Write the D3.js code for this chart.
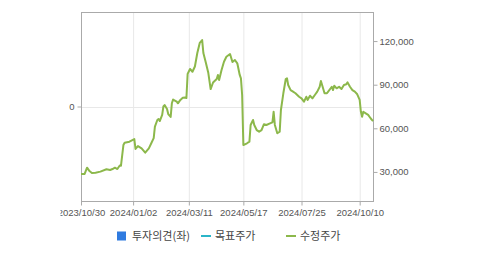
<!DOCTYPE html>
<html>
<head>
<meta charset="utf-8">
<script src="https://cdn.jsdelivr.net/npm/d3@7"></script>
<style>
  html, body { margin: 0; padding: 0; background: #fff; }
  svg { display: block; }
  .axis text { font-family: "Liberation Sans", Arial, sans-serif; font-size: 9.5px; fill: #555; }
  .axis line { stroke: #aaa; }
  .axis path { display: none; }
  .legend text { font-family: "Noto Sans CJK KR", sans-serif; font-size: 11px; fill: #444; }
</style>
</head>
<body>
<script>
/* ----------------------------- data ----------------------------- */
// trading day number (0 = 2023/10/30) and adjusted price (수정주가)
const tradeDay = [0, 3, 5, 7, 9, 12, 16, 21, 24, 26, 28, 30, 32, 33, 35, 36, 40, 44, 45, 47,
  50, 53, 56, 58, 60, 61, 63, 64, 65, 67, 68, 69, 71, 72, 74, 75, 76, 79, 80, 82,
  84, 86, 87, 88, 90, 92, 94, 96, 98, 100, 101, 103, 105, 107, 109, 112, 113, 114, 116, 118,
  120, 123, 125, 127, 129, 131, 132, 133, 134, 137, 139, 140, 142, 143, 145, 147, 149, 151, 153, 156,
  158, 159, 160, 162, 164, 165, 167, 169, 170, 171, 173, 175, 177, 180, 182, 184, 186, 187, 189, 191,
  193, 195, 197, 198, 199, 201, 203, 204, 207, 208, 209, 211, 213, 215, 217, 219, 220, 222, 224, 226,
  228, 230, 231, 232, 233, 235, 237, 239, 241];
const price = [28600, 28600, 32900, 30600, 29300, 29500, 30200, 31800, 31300, 32000, 32900, 32000, 34400, 34300, 48500, 50100, 50800, 52600, 45800, 47800,
  46200, 43200, 46200, 49700, 53300, 61100, 65700, 66400, 65000, 69200, 75000, 76000, 73300, 69800, 67800, 77200, 79800, 78300, 77200, 79500,
  81000, 81200, 80800, 97400, 100800, 98900, 102500, 111800, 118700, 120700, 111800, 105300, 98400, 87000, 91500, 93900, 96700, 93200, 100100, 105800,
  109200, 111100, 105600, 107000, 104700, 96700, 94400, 82900, 48500, 49700, 50800, 62300, 65700, 62300, 58800, 57700, 58800, 62800, 62300, 63400,
  64100, 71400, 62300, 56600, 57700, 72600, 84100, 93900, 94400, 89800, 86300, 85200, 84100, 81700, 80600, 78300, 81700, 79500, 82400, 80600,
  82900, 85200, 88600, 92500, 89800, 84100, 84100, 85200, 88600, 86300, 89300, 87500, 88600, 87000, 89800, 90300, 91600, 88600, 86300, 85200,
  83400, 79500, 71400, 68000, 71400, 70300, 69200, 66900, 65000];

const tickDays = [0, 43, 89, 134, 182, 230];
const tickLabels = ["2023/10/30", "2024/01/02", "2024/03/11", "2024/05/17", "2024/07/25", "2024/10/10"];
const rightTicks = [30000, 60000, 90000, 120000];
const leftTicks = [0];

const legendNames = ["투자의견(좌)", "목표주가", "수정주가"];
const legendColors = ["#2f7be0", "#2bb5c8", "#8cb84b"];

/* -------------------------- document size -------------------------- */
const width = 479, height = 255;
const plot = { left: 81, right: 373, top: 12, bottom: 201 };

const svg = d3.select("body").append("svg")
    .attr("width", width)
    .attr("height", height);

// labels are cut off at the left edge of the chart area
svg.append("clipPath").attr("id", "chartArea")
    .append("rect").attr("x", 60.5).attr("y", 0).attr("width", width - 60.5).attr("height", height);

/* ----------------------------- scales ----------------------------- */
const x = d3.scaleLinear().domain([0, 241]).range([plot.left, plot.right]);
const yRight = d3.scaleLinear().domain([10000, 140000]).range([plot.bottom, plot.top]);
const yLeft = d3.scaleLinear().domain([-1, 1]).range([plot.bottom, plot.top]);

/* ------------------------------ grid ------------------------------ */
svg.append("g").selectAll("line").data(tickDays.slice(1)).enter().append("line")
    .attr("x1", d => x(d) + 0.5).attr("x2", d => x(d) + 0.5)
    .attr("y1", plot.top).attr("y2", plot.bottom)
    .attr("stroke", "#e8e8e8");

svg.append("line")
    .attr("x1", plot.left).attr("x2", plot.right)
    .attr("y1", Math.round(yLeft(0)) + 0.5).attr("y2", Math.round(yLeft(0)) + 0.5)
    .attr("stroke", "#e8e8e8");

/* ------------------------------ axes ------------------------------ */
svg.append("g").attr("class", "axis")
    .attr("clip-path", "url(#chartArea)")
    .attr("transform", "translate(0," + (plot.bottom + 0.5) + ")")
    .call(d3.axisBottom(x).tickValues(tickDays).tickSize(4).tickPadding(4)
        .tickFormat((d, i) => tickLabels[i]));

svg.append("g").attr("class", "axis")
    .attr("transform", "translate(" + (plot.right + 0.5) + ",0)")
    .call(d3.axisRight(yRight).tickValues(rightTicks).tickSize(4).tickPadding(2)
        .tickFormat(d3.format(",")));

svg.append("g").attr("class", "axis")
    .attr("transform", "translate(" + (plot.left + 0.5) + ",0)")
    .call(d3.axisLeft(yLeft).tickValues(leftTicks).tickSize(4).tickPadding(3)
        .tickFormat(d3.format("d")));

/* ------------------------------ frame ------------------------------ */
svg.append("rect")
    .attr("x", plot.left + 0.5).attr("y", plot.top + 0.5)
    .attr("width", plot.right - plot.left).attr("height", plot.bottom - plot.top)
    .attr("fill", "none").attr("stroke", "#aaa");

/* ------------------------------ line ------------------------------ */
const line = d3.line()
    .x((d, i) => x(tradeDay[i]))
    .y(d => yRight(d));

svg.append("path").datum(price)
    .attr("d", line)
    .attr("fill", "none")
    .attr("stroke", legendColors[2])
    .attr("stroke-width", 2)
    .attr("stroke-linejoin", "round");

/* ----------------------------- legend ----------------------------- */
const legend = svg.append("g").attr("class", "legend");
const legendX = [117, 201, 286];
const ly = 236;

legend.append("rect")
    .attr("x", legendX[0]).attr("y", ly - 4.5)
    .attr("width", 9).attr("height", 9)
    .attr("fill", legendColors[0]);

legend.selectAll("line").data([1, 2]).enter().append("line")
    .attr("x1", i => legendX[i]).attr("x2", i => legendX[i] + 10)
    .attr("y1", ly).attr("y2", ly)
    .attr("stroke", i => legendColors[i])
    .attr("stroke-width", 2);

legend.selectAll("text").data(legendNames).enter().append("text")
    .attr("x", (d, i) => legendX[i] + (i == 0 ? 15 : 14))
    .attr("y", ly + 4)
    .text(d => d);
</script>
</body>
</html>
